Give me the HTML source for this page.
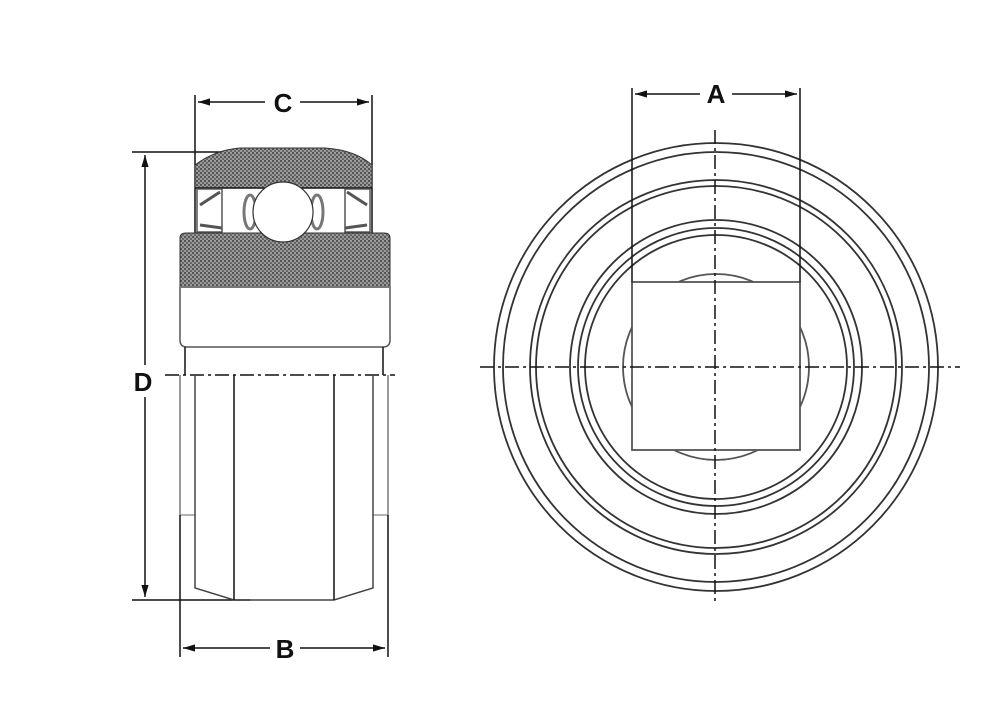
<!DOCTYPE html>
<html><head><style>html,body{margin:0;padding:0;background:#fff}svg{display:block}</style></head><body>
<svg width="1000" height="723" viewBox="0 0 1000 723" xmlns="http://www.w3.org/2000/svg">
<defs>
<pattern id="h" width="4" height="4" patternUnits="userSpaceOnUse">
<rect width="4" height="4" fill="#9a9a9a"/><rect width="2" height="2" fill="#555"/><rect x="2" y="2" width="2" height="2" fill="#666"/>
</pattern>
<marker id="ar" viewBox="0 0 10 10" refX="10" refY="5" markerWidth="8" markerHeight="8" orient="auto-start-reverse"><path d="M0,2 L10,5 L0,8 Z" fill="#111"/></marker>
</defs>
<g stroke="#111" fill="none" stroke-width="1.5">
<line x1="195" y1="95" x2="195" y2="240"/>
<line x1="372" y1="95" x2="372" y2="240"/>
<line x1="198" y1="102" x2="265" y2="102" marker-start="url(#ar)"/>
<line x1="300" y1="102" x2="369" y2="102" marker-end="url(#ar)"/>
<line x1="132" y1="152" x2="280" y2="152"/>
<line x1="132" y1="600" x2="250" y2="600"/>
<line x1="145" y1="155" x2="145" y2="365" marker-start="url(#ar)"/>
<line x1="145" y1="397" x2="145" y2="597" marker-end="url(#ar)"/>
<path d="M195,188 L195,165 Q215,150 240,148 L325,148 Q355,150 372,165 L372,188 Z" fill="url(#h)" stroke="#333" stroke-width="1"/>
<line x1="195" y1="188" x2="372" y2="188" stroke-width="1.5"/>
<rect x="197" y="189" width="25" height="43" fill="#fff" stroke="#555" stroke-width="1.5"/>
<rect x="345" y="189" width="25" height="43" fill="#fff" stroke="#555" stroke-width="1.5"/>
<path d="M200,205 L220,192 M200,225 L222,228 M367,205 L347,192 M367,225 L345,228" stroke="#555" stroke-width="3"/>
<ellipse cx="250" cy="212" rx="6" ry="17" stroke="#777" stroke-width="3"/>
<ellipse cx="317" cy="212" rx="6" ry="17" stroke="#777" stroke-width="3"/>
<path d="M180,287 L180,238 Q180,233 186,233 L384,233 Q390,233 390,238 L390,287 Z" fill="url(#h)" stroke="#333" stroke-width="1"/>
<circle cx="283" cy="212" r="30" fill="#fff" stroke="#333" stroke-width="1.2"/>
<path d="M180,287 L180,340 Q180,347 187,347 L383,347 Q390,347 390,340 L390,287" stroke="#555" stroke-width="1.5"/>
<line x1="180" y1="287" x2="390" y2="287" stroke="#777" stroke-width="2"/>
<line x1="185" y1="347" x2="185" y2="375"/>
<line x1="383" y1="347" x2="383" y2="375"/>
<line x1="165" y1="375" x2="395" y2="375" stroke-dasharray="14,4,3,4"/>
<line x1="180" y1="375" x2="180" y2="515" stroke="#999" stroke-width="2"/>
<line x1="388" y1="375" x2="388" y2="515" stroke="#999" stroke-width="2"/>
<line x1="180" y1="515" x2="195" y2="515" stroke="#999"/>
<line x1="373" y1="515" x2="388" y2="515" stroke="#999"/>
<path d="M195,375 L195,588 L234,600 L334,600 L373,588 L373,375" stroke="#444"/>
<line x1="234" y1="375" x2="234" y2="600"/>
<line x1="334" y1="375" x2="334" y2="600"/>
<line x1="180" y1="515" x2="180" y2="657"/>
<line x1="388" y1="515" x2="388" y2="657"/>
<line x1="183" y1="648" x2="270" y2="648" marker-start="url(#ar)"/>
<line x1="300" y1="648" x2="385" y2="648" marker-end="url(#ar)"/>
<g stroke="#333" stroke-width="1.8">
<ellipse cx="716" cy="367" rx="222" ry="224"/>
<ellipse cx="716" cy="367" rx="213" ry="215"/>
<ellipse cx="716" cy="367" rx="186" ry="187"/>
<ellipse cx="716" cy="367" rx="180" ry="181"/>
<ellipse cx="716" cy="367" rx="146" ry="147"/>
<ellipse cx="716" cy="367" rx="138" ry="139"/>
<ellipse cx="716" cy="367" rx="131" ry="132"/>
<circle cx="716" cy="367" r="93" stroke="#555"/>
</g>
<rect x="632" y="282" width="168" height="168" fill="#fff" stroke="#555" stroke-width="1.8"/>
<line x1="632" y1="88" x2="632" y2="282"/>
<line x1="800" y1="88" x2="800" y2="282"/>
<line x1="635" y1="94" x2="700" y2="94" marker-start="url(#ar)"/>
<line x1="732" y1="94" x2="797" y2="94" marker-end="url(#ar)"/>
<line x1="715" y1="130" x2="715" y2="605" stroke-dasharray="14,4,3,4"/>
<line x1="480" y1="367" x2="960" y2="367" stroke-dasharray="14,4,3,4"/>
</g>
<g font-family="Liberation Sans, sans-serif" font-weight="bold" font-size="26" fill="#111" text-anchor="middle">
<text x="283" y="112">C</text>
<text x="143" y="391">D</text>
<text x="285" y="658">B</text>
<text x="716" y="103">A</text>
</g>
</svg>
</body></html>
